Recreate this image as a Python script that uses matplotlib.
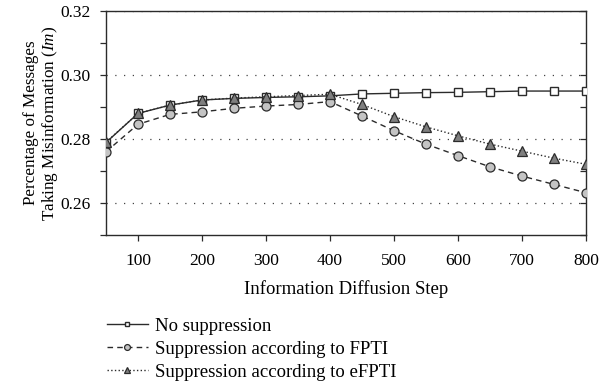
import numpy as np
import matplotlib
matplotlib.use('Agg')
import matplotlib.pyplot as plt
from matplotlib.ticker import MultipleLocator

plt.rcParams['font.family'] = ['Liberation Serif', 'DejaVu Serif']
plt.rcParams['mathtext.fontset'] = 'custom'
plt.rcParams['mathtext.it'] = 'Liberation Serif:italic'
plt.rcParams['mathtext.rm'] = 'Liberation Serif'

steps = [50, 100, 150, 200, 250, 300, 350, 400, 450, 500, 550, 600, 650, 700, 750, 800]
no_supp = [0.2789, 0.2880, 0.2906, 0.2922, 0.2927, 0.2930, 0.2932, 0.2935,
           0.2941, 0.2943, 0.2945, 0.2946, 0.2948, 0.2950, 0.2950, 0.2950]
fpti = [0.2760, 0.2846, 0.2877, 0.2885, 0.2896, 0.2903, 0.2908, 0.2917,
        0.2872, 0.2826, 0.2784, 0.2748, 0.2713, 0.2684, 0.2658, 0.2632]
efpti = [0.2790, 0.2880, 0.2906, 0.2922, 0.2928, 0.2932, 0.2936, 0.2940,
         0.2908, 0.2870, 0.2838, 0.2810, 0.2784, 0.2762, 0.2740, 0.2721]

fig = plt.figure(figsize=(5.99, 3.85), dpi=100)
ax = fig.add_axes([0.177, 0.39, 0.801, 0.581])

ec = '#2b2b2b'
ax.plot(steps, no_supp, '-', color=ec, lw=1.0, marker='s', ms=5.5,
        mfc='white', mec=ec, mew=1.0, label='No suppression', zorder=3)
ax.plot(steps, fpti, '--', color=ec, lw=1.0, marker='o', ms=6.5,
        mfc='#c4c4c4', mec=ec, mew=0.9, dashes=(4, 3),
        label='Suppression according to FPTI', zorder=4)
ax.plot(steps, efpti, ':', color=ec, lw=1.0, marker='^', ms=7.5,
        mfc='#7f7f7f', mec=ec, mew=0.9,
        label='Suppression according to eFPTI', zorder=5)

ax.set_xlim(50, 800)
ax.set_ylim(0.25, 0.32)
ax.set_xticks([100, 200, 300, 400, 500, 600, 700, 800])
ax.set_yticks([0.26, 0.28, 0.30, 0.32])
ax.yaxis.set_minor_locator(MultipleLocator(0.01))
ax.set_yticklabels(['0.26', '0.28', '0.30', '0.32'])
ax.tick_params(axis='both', which='major', labelsize=12.5, length=4, width=0.9, color=ec)
ax.tick_params(axis='y', which='minor', length=4, width=0.9, color=ec)
ax.tick_params(axis='y', which='both', right=True, direction='out', pad=7)
ax.tick_params(axis='x', which='major', pad=9)
for t in ax.yaxis.get_ticklines(minor=False)[1::2] + ax.yaxis.get_ticklines(minor=True)[1::2]:
    t.set_marker(0)  # right side ticks inward
ax.grid(axis='y', which='major', linestyle=(0, (1, 6)), color='#444444', lw=0.9)
for s in ax.spines.values():
    s.set_color(ec)
    s.set_linewidth(1.0)

ax.set_xlabel('Information Diffusion Step', fontsize=13.5, labelpad=8)
ax.set_ylabel('Percentage of Messages\nTaking Misinformation ($Im$)', fontsize=12.3,
              labelpad=0, linespacing=1.1)

fig.legend(loc='upper left', bbox_to_anchor=(0.178, 0.175), frameon=False,
           fontsize=13.5, handlelength=2.2, handletextpad=0.4, labelspacing=0.32,
           markerscale=0.65, borderaxespad=0, borderpad=0)

fig.savefig('out.png', dpi=100)
